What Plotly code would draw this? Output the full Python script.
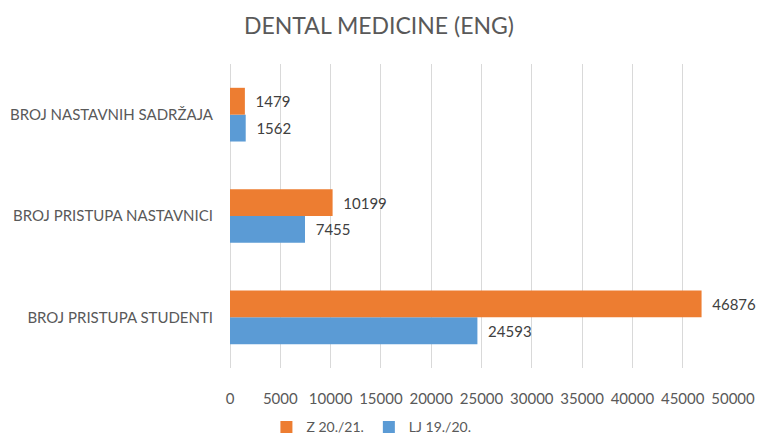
import plotly.graph_objects as go

categories = ["BROJ PRISTUPA STUDENTI", "BROJ PRISTUPA NASTAVNICI", "BROJ NASTAVNIH SADRŽAJA"]
series_lj = [24593, 7455, 1562]
series_z = [46876, 10199, 1479]
name_lj = "LJ 19./20."
name_z = "Z 20./21."
x_ticks = list(range(0, 50001, 5000))

FONT = "Lato, 'Open Sans', sans-serif"
GRAY = "#595959"

fig = go.Figure()
fig.add_trace(go.Bar(
    y=categories, x=series_lj, name=name_lj, orientation="h",
    marker=dict(color="#5B9BD5", line=dict(width=0)),
    text=[str(v) for v in series_lj], texttemplate="  %{text}", textposition="outside",
    textfont=dict(color="#404040", size=15, family=FONT), cliponaxis=False,
))
fig.add_trace(go.Bar(
    y=categories, x=series_z, name=name_z, orientation="h",
    marker=dict(color="#ED7D31", line=dict(width=0)),
    text=[str(v) for v in series_z], texttemplate="  %{text}", textposition="outside",
    textfont=dict(color="#404040", size=15, family=FONT), cliponaxis=False,
))

fig.update_layout(
    width=758, height=437,
    barmode="group", bargap=0.47, bargroupgap=0,
    paper_bgcolor="white", plot_bgcolor="white",
    margin=dict(l=230, r=25, t=64, b=69, autoexpand=False),
    font=dict(family=FONT, color=GRAY, size=15),
    title=dict(text="DENTAL MEDICINE (ENG)", x=0.5, xref="container", xanchor="center",
               y=0.94, yref="container", yanchor="middle",
               font=dict(size=23, color=GRAY, family=FONT)),
    showlegend=True,
    legend=dict(orientation="h", x=0.49, xanchor="center", xref="container",
                y=-0.195, yanchor="middle", yref="paper",
                traceorder="reversed", font=dict(size=14, color=GRAY),
                itemwidth=30),
    xaxis=dict(range=[0, 50000], tickvals=x_ticks, ticktext=[str(v) for v in x_ticks],
               showgrid=True, gridcolor="#D9D9D9", gridwidth=1,
               zeroline=True, zerolinecolor="#D9D9D9", zerolinewidth=1,
               showline=False, ticks="", ticklabelstandoff=20, automargin=False,
               tickfont=dict(size=15, color=GRAY)),
    yaxis=dict(showgrid=False, zeroline=False, showline=False, ticks="",
               ticklabelstandoff=16, automargin=False, tickfont=dict(size=15, color=GRAY),
               categoryorder="array", categoryarray=categories),
)

fig.write_html("out.html", config={"displayModeBar": False},
               post_script="document.body.style.margin='0';document.body.style.overflow='hidden';")
